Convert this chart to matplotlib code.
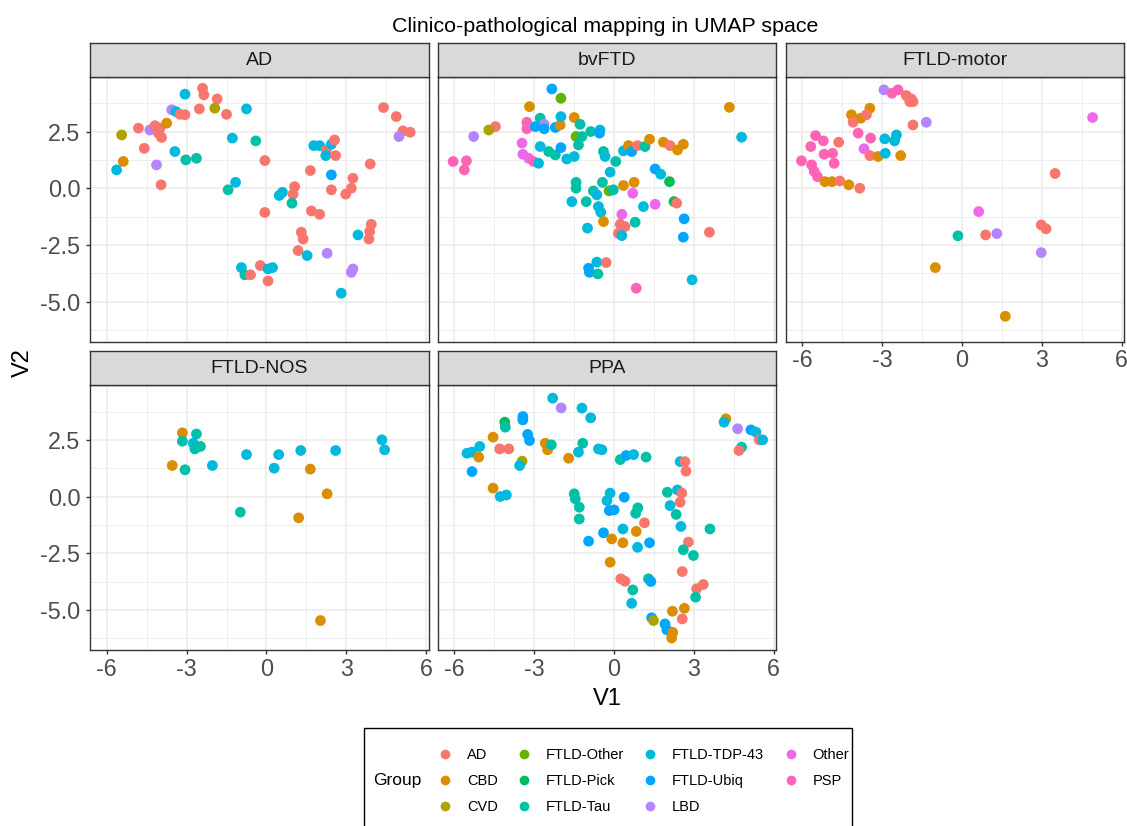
import matplotlib.pyplot as plt
from matplotlib.lines import Line2D
from matplotlib.patches import Rectangle

plt.rcParams['font.family'] = ['Liberation Sans', 'DejaVu Sans']
plt.rcParams['axes.unicode_minus'] = False

# groups and ggplot default hue colours
groups = ['AD', 'CBD', 'CVD', 'FTLD-Other', 'FTLD-Pick', 'FTLD-Tau',
          'FTLD-TDP-43', 'FTLD-Ubiq', 'LBD', 'Other', 'PSP']
colours = ['#F8766D', '#DB8E00', '#AEA200', '#64B200', '#00BD5C', '#00C1A7',
           '#00BADE', '#00A6FF', '#B385FF', '#EF67EB', '#FF63B6']
# short keys used in the data lists below
keys = {'AD': 'AD', 'CBD': 'CBD', 'CVD': 'CVD', 'FO': 'FTLD-Other',
        'Pick': 'FTLD-Pick', 'Tau': 'FTLD-Tau', 'TDP': 'FTLD-TDP-43',
        'Ubiq': 'FTLD-Ubiq', 'LBD': 'LBD', 'Oth': 'Other', 'PSP': 'PSP'}

# ---- AD panel
ad_v1 = [-3.06, -2.4, -2.35, -1.85, -3.56, -3.4, -3.06, -3.25, -2.52, -1.94,
         -1.5, -0.75, -4.81, -4.38, -4.19, -4.0, -3.75, -3.94, -4.06, -5.44,
         -4.59, -3.44, -3.03, -2.63, -5.38, -5.63, -4.13, -3.96, -1.28, -0.4,
         -0.06, -1.16, -1.44, 0.48, 0.6, 1.06, 1.0, 0.96, -0.06, 1.65,
         1.78, 2.0, 2.25, 2.44, 2.56, 2.23, 2.6, 2.44, 2.44, 2.98,
         3.19, 3.25, 3.9, 4.4, 4.88, 5.13, 5.4, 4.98, 1.69, 2.0,
         3.94, 3.88, 3.85, 3.44, 1.31, 1.38, 1.19, 1.53, 2.28, 3.25,
         3.19, 2.81, -0.94, -0.81, -0.6, -0.23, 0.06, 0.23, 0.06]
ad_v2 = [4.15, 4.41, 4.12, 3.94, 3.46, 3.38, 3.24, 3.26, 3.5, 3.53,
         3.26, 3.5, 2.65, 2.57, 2.76, 2.65, 2.87, 2.24, 2.43, 2.35,
         1.76, 1.62, 1.25, 1.32, 1.18, 0.81, 1.03, 0.15, 2.21, 2.09,
         1.22, 0.26, -0.07, -0.32, -0.18, 0.07, -0.26, -0.66, -1.07, 0.78,
         1.88, 1.88, 1.69, 1.94, 2.13, 1.44, 1.44, 0.59, -0.07, -0.26,
         0.0, 0.44, 1.07, 3.56, 3.16, 2.53, 2.47, 2.28, -1.0, -1.15,
         -1.59, -1.91, -2.24, -2.06, -1.94, -2.24, -2.75, -2.97, -2.87, -3.56,
         -3.71, -4.63, -3.5, -3.82, -3.82, -3.41, -3.56, -3.5, -4.09]
ad_grp = ['TDP', 'AD', 'AD', 'AD', 'LBD', 'TDP', 'AD', 'AD', 'AD', 'CVD',
          'AD', 'TDP', 'AD', 'LBD', 'AD', 'AD', 'CBD', 'AD', 'AD', 'CVD',
          'AD', 'TDP', 'Tau', 'Tau', 'CBD', 'TDP', 'LBD', 'AD', 'TDP', 'Tau',
          'AD', 'TDP', 'Tau', 'TDP', 'TDP', 'AD', 'AD', 'Tau', 'AD', 'AD',
          'TDP', 'TDP', 'AD', 'TDP', 'AD', 'TDP', 'AD', 'Ubiq', 'AD', 'AD',
          'AD', 'AD', 'AD', 'AD', 'AD', 'AD', 'AD', 'LBD', 'AD', 'AD',
          'AD', 'AD', 'AD', 'TDP', 'AD', 'AD', 'AD', 'TDP', 'LBD', 'LBD',
          'LBD', 'TDP', 'TDP', 'Tau', 'AD', 'AD', 'TDP', 'TDP', 'AD']

# ---- bvFTD panel
bv_v1 = [-2.34, -2.0, -3.18, -4.46, -4.71, -5.28, -6.05, -5.55, -5.63, -3.28,
         -3.28, -2.78, -2.63, -2.96, -2.63, -2.21, -2.03, -2.0, -1.5, -1.28,
         -0.88, -0.53, -0.55, -1.43, -1.21, -1.34, -3.46, -3.43, -3.21, -3.03,
         -2.84, -2.78, -2.46, -2.21, -2.0, -1.78, -1.5, -0.4, -0.34, 0.06,
         -0.15, -0.44, -1.43, -1.43, -0.78, -0.65, -1.59, -1.05, -0.59, -0.5,
         -0.4, -0.19, -0.03, 0.35, 0.75, 0.7, 0.35, 0.54, 0.66, 0.88,
         1.16, 1.33, 1.85, 2.1, 2.38, 2.6, 1.54, 1.75, 2.08, 1.54,
         1.1, 2.25, 2.35, 0.29, 0.79, 0.23, 0.41, 0.16, 0.29, -1.0,
         2.63, 2.6, 3.58, 4.33, 4.79, -0.65, -0.96, -0.93, -0.61, -0.3,
         0.83, 2.93]
bv_v2 = [4.38, 3.97, 3.6, 2.72, 2.57, 2.28, 1.18, 1.21, 0.81, 2.91,
         2.62, 3.09, 2.82, 2.72, 2.62, 2.68, 2.79, 3.16, 3.12, 2.82,
         2.5, 2.57, 2.43, 2.28, 2.28, 1.91, 1.99, 1.5, 1.32, 1.18,
         1.1, 1.84, 1.62, 1.47, 1.79, 1.29, 1.4, 1.62, 1.4, 1.18,
         0.71, 0.26, 0.26, 0.0, -0.12, -0.29, -0.59, -0.59, -0.81, -1.06,
         -1.47, -0.12, -0.07, 0.12, 0.26, -0.22, 1.65, 1.88, 1.62, 1.88,
         1.84, 2.16, 2.03, 1.88, 1.69, 1.94, 0.85, 0.62, 0.29, -0.71,
         -0.81, -0.59, -0.66, -1.15, -1.5, -1.59, -1.69, -1.99, -2.09, -1.76,
         -1.35, -2.16, -1.94, 3.57, 2.25, -3.26, -3.53, -3.71, -3.78, -3.28,
         -4.41, -4.04]
bv_grp = ['Ubiq', 'FO', 'CBD', 'AD', 'CVD', 'LBD', 'PSP', 'PSP', 'PSP', 'PSP',
          'PSP', 'Tau', 'LBD', 'Ubiq', 'Ubiq', 'Ubiq', 'CBD', 'TDP', 'CBD', 'Tau',
          'Tau', 'TDP', 'Ubiq', 'FO', 'Tau', 'Tau', 'Oth', 'Oth', 'Oth', 'PSP',
          'TDP', 'TDP', 'Tau', 'Tau', 'Ubiq', 'TDP', 'TDP', 'Tau', 'TDP', 'Tau',
          'TDP', 'Tau', 'Tau', 'Tau', 'Tau', 'TDP', 'TDP', 'Tau', 'TDP', 'TDP',
          'CBD', 'FO', 'Tau', 'CBD', 'CBD', 'Oth', 'TDP', 'CBD', 'Ubiq', 'AD',
          'Tau', 'CBD', 'CBD', 'AD', 'CBD', 'CBD', 'Ubiq', 'TDP', 'Pick', 'Oth',
          'TDP', 'Pick', 'AD', 'Oth', 'Tau', 'AD', 'AD', 'AD', 'TDP', 'TDP',
          'Ubiq', 'Ubiq', 'AD', 'CBD', 'TDP', 'TDP', 'Ubiq', 'Ubiq', 'Tau', 'AD',
          'PSP', 'TDP']

# ---- FTLD-motor panel
mo_v1 = [-2.93, -2.63, -2.4, -2.09, -1.9, -1.84, -1.96, -3.46, -4.15, -3.8,
         -3.59, -4.09, -1.84, -1.34, -5.5, -5.21, -5.68, -4.63, -3.9, -3.43,
         -2.9, -2.46, -2.53, -3.68, -3.46, -3.15, -2.88, -2.3, -5.18, -4.86,
         -4.8, -6.03, -5.65, -5.55, -5.43, -5.15, -4.88, -4.59, -4.25, -3.84,
         4.91, 3.5, 0.63, -0.15, 0.89, 1.31, 2.98, 3.16, 2.98, -1.0,
         1.63]
mo_v2 = [4.34, 4.19, 4.34, 4.09, 3.94, 3.82, 3.82, 3.53, 3.24, 3.09,
         3.24, 2.91, 2.79, 2.91, 2.32, 2.09, 1.84, 2.03, 2.43, 2.21,
         2.18, 2.35, 2.09, 1.74, 1.44, 1.4, 1.54, 1.44, 1.5, 1.54,
         1.1, 1.21, 1.03, 0.74, 0.51, 0.29, 0.29, 0.32, 0.15, 0.0,
         3.12, 0.65, -1.03, -2.1, -2.06, -2.0, -1.62, -1.79, -2.84, -3.5,
         -5.65]
mo_grp = ['LBD', 'PSP', 'PSP', 'AD', 'AD', 'AD', 'AD', 'CBD', 'CBD', 'CBD',
          'AD', 'AD', 'AD', 'LBD', 'PSP', 'PSP', 'PSP', 'AD', 'PSP', 'PSP',
          'TDP', 'TDP', 'TDP', 'Oth', 'AD', 'CBD', 'TDP', 'CBD', 'PSP', 'PSP',
          'PSP', 'PSP', 'PSP', 'PSP', 'PSP', 'CBD', 'CBD', 'AD', 'CBD', 'AD',
          'Oth', 'AD', 'Oth', 'Tau', 'AD', 'LBD', 'AD', 'AD', 'LBD', 'CBD',
          'CBD']

# ---- FTLD-NOS panel
nos_v1 = [-3.16, -2.63, -3.16, -2.75, -2.69, -2.48, -3.54, -3.06, -2.03, -0.75,
          0.29, 0.46, 1.29, 2.6, 1.65, 2.28, 1.21, -0.98, 4.34, 4.44,
          2.03]
nos_v2 = [2.81, 2.76, 2.44, 2.35, 2.1, 2.21, 1.37, 1.18, 1.37, 1.85,
          1.25, 1.85, 2.03, 2.03, 1.21, 0.12, -0.94, -0.69, 2.5, 2.06,
          -5.47]
nos_grp = ['CBD', 'Tau', 'Tau', 'TDP', 'Tau', 'Tau', 'CBD', 'Tau', 'TDP', 'TDP',
           'TDP', 'TDP', 'TDP', 'TDP', 'CBD', 'CBD', 'CBD', 'Tau', 'TDP', 'TDP',
           'CBD']

# ---- PPA panel
ppa_v1 = [-2.31, -1.99, -1.21, -0.88, -3.43, -3.43, -4.11, -4.09, -3.25, -3.18,
          -4.55, -5.05, -5.53, -5.34, -5.09, -4.3, -3.96, -5.34, -3.46, -3.55,
          -4.55, -4.28, -4.05, -2.59, -2.5, -2.36, -1.71, -1.34, -1.18, -0.59,
          -0.46, 0.23, 0.45, 0.73, 1.2, -1.5, -1.46, -1.31, -1.31, -0.15,
          -0.27, 0.38, -0.18, 0.0, 0.89, 0.81, 1.14, 0.33, 0.83, -0.4,
          -0.09, 0.33, -0.96, 0.88, 1.33, -0.15, 2.0, 2.38, 2.54, 2.48,
          2.66, 2.7, 2.1, 2.48, 2.33, 2.51, 3.6, 2.79, 2.6, 2.98,
          2.56, 0.25, 0.41, 0.7, 0.66, 1.29, 1.38, 3.1, 3.35, 3.06,
          1.41, 1.48, 1.91, 1.98, 2.16, 2.2, 2.19, 2.64, 2.56, 4.2,
          4.13, 4.64, 5.14, 5.33, 5.45, 5.58, 4.79, 4.69]
ppa_v2 = [4.34, 3.91, 3.9, 3.47, 3.53, 3.38, 3.28, 3.06, 2.74, 2.47,
          2.62, 2.21, 1.91, 1.96, 1.74, 2.1, 2.1, 1.1, 1.56, 1.37,
          0.37, 0.0, 0.07, 2.35, 2.06, 2.28, 1.69, 1.96, 2.35, 2.1,
          2.06, 1.63, 1.81, 1.85, 1.74, 0.12, -0.1, -0.47, -0.99, 0.15,
          -0.18, -0.03, -0.62, -0.59, -0.5, -0.74, -1.16, -1.43, -1.54, -1.6,
          -1.87, -2.04, -1.97, -2.24, -2.04, -2.9, 0.19, 0.29, 0.15, 1.54,
          1.54, 1.12, -0.4, -0.25, -0.79, -1.32, -1.43, -2.01, -2.35, -2.6,
          -3.31, -3.63, -3.74, -4.12, -4.71, -3.63, -3.75, -4.07, -3.88, -4.44,
          -5.35, -5.47, -5.62, -5.88, -6.24, -5.99, -5.06, -4.93, -5.4, 3.43,
          3.28, 2.99, 2.94, 2.84, 2.5, 2.5, 2.18, 2.03]
ppa_grp = ['TDP', 'LBD', 'TDP', 'TDP', 'Ubiq', 'Ubiq', 'Pick', 'Tau', 'Ubiq', 'Ubiq',
           'CBD', 'TDP', 'TDP', 'TDP', 'CBD', 'AD', 'AD', 'Ubiq', 'CVD', 'TDP',
           'CBD', 'TDP', 'TDP', 'CBD', 'CBD', 'Tau', 'CBD', 'TDP', 'Tau', 'TDP',
           'TDP', 'Tau', 'Ubiq', 'TDP', 'Tau', 'Tau', 'Tau', 'Tau', 'Tau', 'TDP',
           'TDP', 'Ubiq', 'Ubiq', 'Ubiq', 'Tau', 'Tau', 'AD', 'TDP', 'CBD', 'Ubiq',
           'CBD', 'CBD', 'Ubiq', 'TDP', 'Ubiq', 'CBD', 'Tau', 'TDP', 'AD', 'TDP',
           'AD', 'AD', 'TDP', 'AD', 'Tau', 'TDP', 'Tau', 'AD', 'Tau', 'Tau',
           'AD', 'AD', 'AD', 'Tau', 'TDP', 'Tau', 'Ubiq', 'AD', 'AD', 'Tau',
           'Ubiq', 'CVD', 'Ubiq', 'Ubiq', 'CBD', 'CBD', 'CBD', 'CBD', 'AD', 'CBD',
           'TDP', 'LBD', 'Ubiq', 'TDP', 'AD', 'TDP', 'Tau', 'AD']

panels = [('AD', ad_v1, ad_v2, ad_grp),
          ('bvFTD', bv_v1, bv_v2, bv_grp),
          ('FTLD-motor', mo_v1, mo_v2, mo_grp),
          ('FTLD-NOS', nos_v1, nos_v2, nos_grp),
          ('PPA', ppa_v1, ppa_v2, ppa_grp)]

colour_of = dict(zip(groups, colours))

W, H = 1127, 826
fig = plt.figure(figsize=(W / 100, H / 100), dpi=100)


def px_axes(left, top, width, height):
    return fig.add_axes([left / W, 1 - (top + height) / H, width / W, height / H])


col_left = [90, 437.7, 785.5]
row_top = [76.7, 385]
panel_w, panel_h, strip_h = 338.5, 265, 34

for i, (name, v1, v2, grp) in enumerate(panels):
    r, c = divmod(i, 3)
    ax = px_axes(col_left[c], row_top[r], panel_w, panel_h)
    ax.scatter(v1, v2, c=[colour_of[keys[g]] for g in grp], s=60,
               edgecolors='none', zorder=3)
    ax.set_xlim(-6.63, 6.09)
    ax.set_ylim(-6.77, 4.92)
    ax.set_xticks([-6, -3, 0, 3, 6])
    ax.set_xticks([-4.5, -1.5, 1.5, 4.5], minor=True)
    ax.set_yticks([-5, -2.5, 0, 2.5])
    ax.set_yticks([-6.25, -3.75, -1.25, 1.25, 3.75], minor=True)
    ax.grid(which='major', color='#EBEBEB', lw=1.1)
    ax.grid(which='minor', color='#EBEBEB', lw=0.6)
    ax.set_axisbelow(True)
    for sp in ax.spines.values():
        sp.set_color('#333333')
        sp.set_linewidth(1.0)
    ax.tick_params(which='major', direction='out', length=3, width=1,
                   color='#333333', labelcolor='#4D4D4D', labelsize=16.8)
    ax.tick_params(axis='x', pad=2.5)
    ax.tick_params(axis='y', pad=4)
    ax.tick_params(which='minor', length=0)
    ax.set_xticklabels(['-6', '-3', '0', '3', '6'])
    ax.set_yticklabels(['-5.0', '-2.5', '0.0', '2.5'])
    if c != 0:
        ax.tick_params(axis='y', labelleft=False, length=0)
    if r == 0 and c != 2:
        ax.tick_params(axis='x', labelbottom=False, length=0)

    sax = px_axes(col_left[c], row_top[r] - strip_h, panel_w, strip_h)
    sax.set_facecolor('#D9D9D9')
    sax.set_xticks([])
    sax.set_yticks([])
    for sp in sax.spines.values():
        sp.set_color('#333333')
        sp.set_linewidth(1.0)
    sax.text(0.5, 0.48, name, ha='center', va='center', fontsize=14,
             color='#1A1A1A', transform=sax.transAxes)

fig.text(605.4 / W, 1 - 31.5 / H, 'Clinico-pathological mapping in UMAP space',
         ha='center', va='baseline', fontsize=15.4)
fig.text(607 / W, 1 - 699 / H, 'V1', ha='center', va='center', fontsize=17)
fig.text(23 / W, 1 - 363 / H, 'V2', ha='center', va='center', fontsize=17,
         rotation=90)

# legend
fig.patches.append(Rectangle((364 / W, -0.01), (852 - 364) / W, (826 - 728) / H + 0.01,
                             transform=fig.transFigure, fill=False,
                             edgecolor='black', lw=1.0))
fig.text(373 / W, 1 - 781 / H, 'Group', ha='left', va='center', fontsize=12.5)
handles = [Line2D([], [], ls='none', marker='o', ms=7, mfc=col, mec='none')
           for col in colours]
fig.legend(handles, groups, ncol=4, loc='center left',
           bbox_to_anchor=(437.7 / W, 1 - 781 / H), frameon=False,
           fontsize=10.5, handlelength=1.0, handletextpad=1.0,
           columnspacing=1.3, labelspacing=0.85, borderpad=0, borderaxespad=0)

fig.savefig('out.png', dpi=100)
